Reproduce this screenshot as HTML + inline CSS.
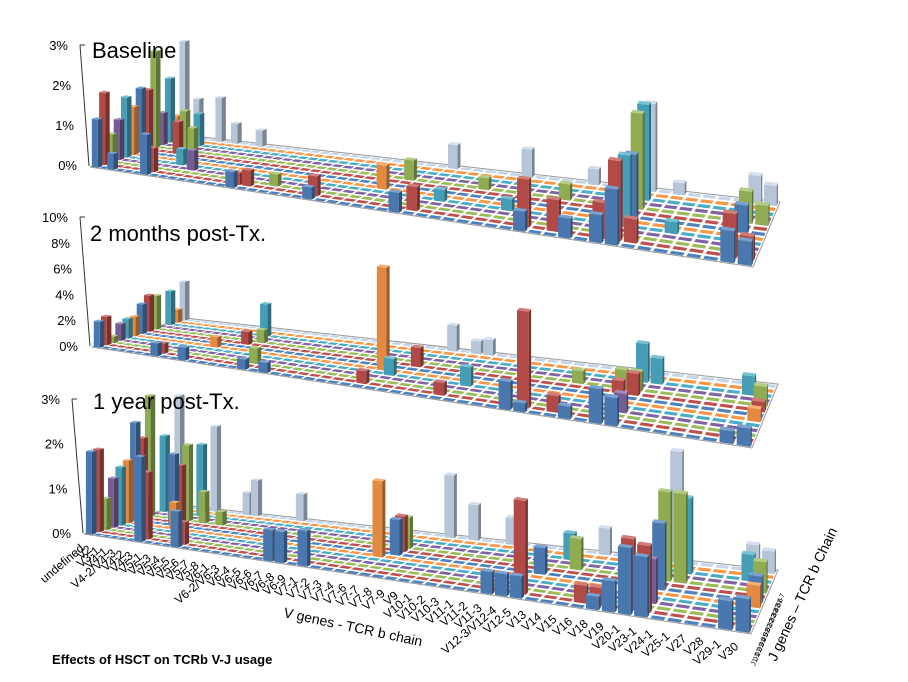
<!DOCTYPE html>
<html><head><meta charset="utf-8"><style>
html,body{margin:0;padding:0;background:#fff;}
svg{display:block;font-family:"Liberation Sans",sans-serif;}
</style></head><body>
<svg id="chart" width="908" height="682" viewBox="0 0 908 682" xmlns="http://www.w3.org/2000/svg">
<g id="panels"></g>
<text x="52" y="664" font-size="13" font-weight="bold" fill="#000">Effects of HSCT on TCRb V-J usage</text>
<text transform="translate(283,617) rotate(12)" font-size="14" fill="#000">V genes  - TCR b chain</text>
<text transform="translate(776,662) rotate(-65)" font-size="14" fill="#000">J genes – TCR b Chain</text>
</svg>
<script>
const vGenes=["undefined","V2","V3-1","V4-1","V4-2/V4-3","V4-2","V4-3","V5-1","V5-3","V5-4","V5-5","V5-6","V5-7","V5-8","V6-1","V6-2/V6-3","V6-4","V6-5","V6-6","V6-7","V6-8","V6-9","V7-1","V7-2","V7-3","V7-4","V7-6","V7-7","V7-8","V7-9","V9","V10-1","V10-2","V10-3","V11-1","V11-2","V11-3","V12-3/V12-4","V12-5","V13","V14","V15","V16","V18","V19","V20-1","V23-1","V24-1","V25-1","V27","V28","V29-1","V30"];
const jGenes=["J1-1","J1-2","J1-3","J1-4","J1-5","J1-6","J2-1","J2-2","J2-3","J2-4","J2-5","J2-6","J2-7"];
const rowColors=["#4F81BD","#C0504D","#9BBB59","#8064A2","#4BACC6","#F79646","#4F81BD","#C0504D","#9BBB59","#8064A2","#4BACC6","#F79646","#C6D6EA"];
// [V-gene index, J-gene index, percent]
const baselineValues=[[0,0,1.2],[0,1,1.8],[0,2,0.7],[0,3,1.0],[0,4,1.5],[0,5,1.2],[0,6,1.6],[0,7,1.5],[0,8,2.4],[0,9,0.8],[0,10,1.6],[0,11,0.6],[0,12,2.4],
[2,0,0.4],[2,12,1.0],[4,7,0.8],[4,8,1.0],[4,10,0.8],[5,8,0.6],[5,12,1.1],[6,0,1.0],[6,1,0.6],[7,12,0.5],[10,12,0.4],[9,3,0.5],[7,4,0.4],
[15,0,0.4],[15,1,0.3],[16,1,0.4],[18,2,0.3],[22,0,0.3],[22,1,0.5],[26,5,0.6],[27,8,0.5],[29,0,0.5],[30,1,0.6],[29,12,0.6],[35,12,0.7],[31,4,0.3],[33,8,0.3],
[38,0,0.5],[38,1,1.2],[40,1,0.8],[41,0,0.5],[43,0,0.7],[43,1,0.9],[44,0,1.4],[44,1,2.0],[44,4,1.8],[44,6,1.6],[44,8,2.4],[44,10,2.4],[44,12,2.2],[45,1,0.6],[46,12,0.3],
[51,0,0.8],[51,1,1.1],[52,0,0.6],[52,1,0.6],[51,6,0.7],[51,8,0.8],[51,12,0.7],[52,12,0.5],[52,8,0.5],[39,8,0.4],[40,12,0.4],[36,4,0.3],[47,4,0.3]];
const twoMonthValues=[[0,0,2.0],[0,1,2.2],[0,2,0.5],[0,3,1.3],[0,4,1.5],[0,5,1.5],[0,6,2.3],[0,7,2.8],[0,8,2.6],[0,10,2.6],[0,11,1.0],[0,12,3.0],
[7,0,1.0],[7,1,0.8],[10,0,1.0],[12,10,2.5],[13,8,1.0],[12,7,1.0],[10,5,0.8],[16,2,1.2],[16,0,0.8],[18,0,0.8],
[26,5,8.0],[27,4,1.3],[28,7,1.5],[26,1,1.0],[29,12,2.0],[31,12,1.0],[32,12,1.2],[33,4,1.5],[32,1,1.0],
[37,0,2.2],[38,0,0.7],[38,1,7.5],[40,1,1.3],[41,0,1.0],[40,8,1.0],[43,0,2.7],[44,0,2.2],[44,3,1.5],[43,8,1.5],[43,7,1.0],[44,7,1.7],[44,8,1.5],[44,10,3.0],[45,10,2.0],[44,12,1.2],
[51,0,1.0],[52,0,1.4],[52,5,1.0],[52,7,0.8],[52,8,1.6],[51,10,1.5]];
const oneYearValues=[[0,0,1.85],[0,1,1.85],[0,2,0.7],[0,3,1.1],[0,4,1.3],[0,5,1.4],[0,6,2.2],[0,7,1.8],[0,8,2.7],[0,10,1.7],[0,12,2.5],
[6,0,1.9],[6,1,1.5],[5,6,1.6],[5,7,1.3],[5,8,1.7],[5,10,1.6],[5,12,1.9],[4,3,0.8],[6,5,0.6],[7,8,0.7],[9,12,0.5],[10,12,0.8],[15,12,0.6],[9,8,0.3],[10,0,0.8],[10,1,0.5],
[26,5,1.7],[22,0,0.8],[29,12,1.4],[31,12,0.8],[34,12,0.6],[27,8,0.7],[27,7,0.8],[27,6,0.8],[19,0,0.7],[20,0,0.7],
[38,1,2.1],[38,0,0.5],[37,0,0.5],[36,0,0.5],[39,10,0.6],[40,8,0.7],[38,6,0.6],[41,12,0.6],[42,1,0.4],[43,0,0.3],[43,1,0.4],
[44,0,0.7],[45,0,1.5],[46,0,1.35],[45,1,1.6],[46,1,1.5],[46,3,1.0],[46,6,1.5],[46,8,2.0],[46,12,2.5],[47,10,1.7],[47,8,2.0],
[51,0,0.65],[52,0,0.75],[52,6,0.6],[52,5,0.5],[51,10,0.6],[52,8,0.7],[51,12,0.6],[52,12,0.5]];
const baselineTicks=["0%","1%","2%","3%"];
const twoMonthTicks=["0%","2%","4%","6%","8%","10%"];
const oneYearTicks=["0%","1%","2%","3%"];

const NS="http://www.w3.org/2000/svg";
const panelsG=document.getElementById('panels');
function el(tag,attrs,parent){const e=document.createElementNS(NS,tag);for(const k in attrs)e.setAttribute(k,attrs[k]);parent.appendChild(e);return e;}
function shade(hex,f){let n=parseInt(hex.slice(1),16);let r=n>>16,g=(n>>8)&255,b=n&255;
 if(f<1){r*=f;g*=f;b*=f;}else{r=r+(255-r)*(f-1);g=g+(255-g)*(f-1);b=b+(255-b)*(f-1);}
 return "rgb("+Math.round(r)+","+Math.round(g)+","+Math.round(b)+")";}
const panels=[
 {name:"baseline",title:"Baseline",tx:92,ty:58,vals:baselineValues,ticks:baselineTicks,step:1,FL:[90,167],FR:[753,267],BR:[780,202],BL:[185,135],zero:165,top:45,axTop:[80,45],axBot:[89,166],max:3},
 {name:"two-months",title:"2 months post-Tx.",tx:90,ty:241,vals:twoMonthValues,ticks:twoMonthTicks,step:2,FL:[92,347],FR:[752,448],BR:[778,384],BL:[185,318],zero:346,top:217,axTop:[80,217],axBot:[90,346],max:10},
 {name:"one-year",title:"1 year post-Tx.",tx:93,ty:409,vals:oneYearValues,ticks:oneYearTicks,step:1,FL:[84,534],FR:[751,634],BR:[778,570],BL:[180,505],zero:533,top:399,axTop:[72,399],axBot:[83,533],max:3}
];
const N=vGenes.length,R=jGenes.length;
const QA=7.59,QB=0.097;
function warp(c){return (QA*c+QB*c*c)/(QA*N+QB*N*N);}
function lerp(a,b,t){return [a[0]+(b[0]-a[0])*t,a[1]+(b[1]-a[1])*t];}
panels.forEach((p,pi)=>{
 const g=el('g',{},panelsG);
 
 
 const scale=(p.zero-p.top)/p.max;
 const P=(c,v)=>{const u=warp(c);return lerp(lerp(p.FL,p.FR,u),lerp(p.BL,p.BR,u),v);};
 const floor=el('polygon',{points:[p.FL,p.FR,p.BR,p.BL].map(q=>q.join(',')).join(' '),fill:"#fff",stroke:"#9a9a9a","stroke-width":1},g);
 
 
 const ax=el('line',{x1:p.axTop[0],y1:p.axTop[1],x2:p.axBot[0],y2:p.axBot[1],stroke:"#333","stroke-width":1},g);
 
 
 el('line',{x1:p.axTop[0],y1:p.axTop[1],x2:p.axTop[0]+5,y2:p.axTop[1],stroke:"#333"},g);
 p.ticks.forEach((t,i)=>{
  const y=p.zero-i*p.step*scale;
  const tx=el('text',{x:p.axBot[0]-12-(p.axBot[0]-p.axTop[0])*(i/(p.ticks.length-1)),y:y+5,"text-anchor":"end","font-size":"13",fill:"#000"},g);
  tx.textContent=t;
  
  
 });
 const grid=[];for(let r=0;r<R;r++){grid.push(new Array(N).fill(0));}
 p.vals.forEach(d=>{grid[d[1]][d[0]]=d[2];});
 for(let r=R-1;r>=0;r--){
  for(let c=0;c<N;c++){
   const v=grid[r][c];const h=v*scale;const col=rowColors[r];
   const c0=c+0.1,c1=c+0.9,v0=(r+0.15)/R,v1=(r+0.78)/R;
   const a=P(c0,v0),b=P(c1,v0),cc=P(c1,v1),d=P(c0,v1);
   const up=q=>[q[0],q[1]-h];
   const bg=el('g',{},g);
   
   
   const pts=arr=>arr.map(q=>q[0].toFixed(1)+','+q[1].toFixed(1)).join(' ');
   if(h>0.5){
    el('polygon',{points:pts([b,cc,up(cc),up(b)]),fill:shade(col,0.62)},bg);
    el('polygon',{points:pts([a,b,up(b),up(a)]),fill:shade(col,0.92)},bg);
   }
   el('polygon',{points:pts([up(a),up(b),up(cc),up(d)]),fill:shade(col,h>0.5?1.25:1.0)},bg);
  }
 }
 const tt=el('text',{x:p.tx,y:p.ty,"font-size":"22",fill:"#000"},g);
 tt.textContent=p.title;
 
 
 if(pi===2){
  vGenes.forEach((name,c)=>{
   const q=P(c+0.5,0);
   const t=el('text',{transform:"translate("+(q[0]-3).toFixed(1)+","+(q[1]+15).toFixed(1)+") rotate(-40)","text-anchor":"end","font-size":"12",fill:"#000"},g);
   t.textContent=name;
   
   
  });
  jGenes.forEach((name,r)=>{
   const q=P(N,(r+0.5)/R);
   const t=el('text',{transform:"translate("+(q[0]+8).toFixed(1)+","+(q[1]+22).toFixed(1)+") rotate(-68)","text-anchor":"end","font-size":"7",fill:"#000"},g);
   t.textContent=name;
   
   
  });
 }
});
</script>
</body></html>
